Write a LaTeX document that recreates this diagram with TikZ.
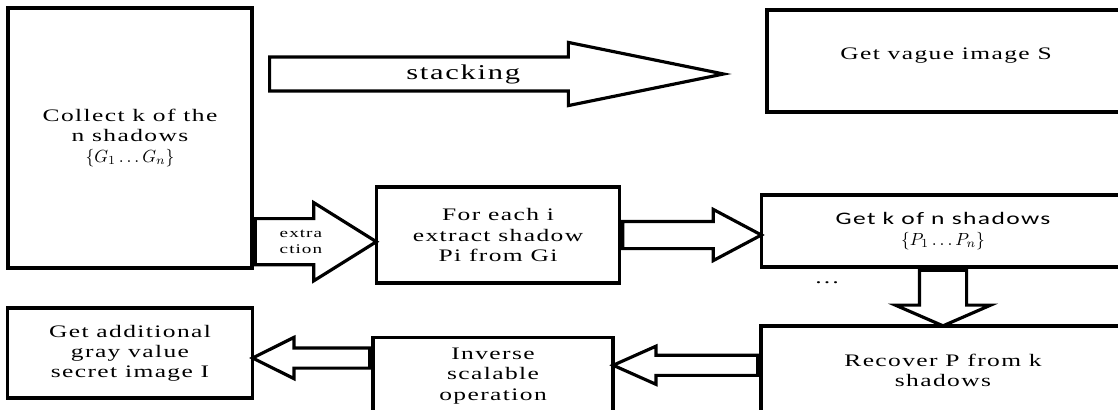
\documentclass[tikz,border=0pt]{standalone}
\usepackage{fontspec}
\setmainfont{Liberation Serif}[FakeStretch=1.45,LetterSpace=8]
\newfontfamily\calibfont{Carlito}[FakeStretch=1.45,LetterSpace=8]
\usetikzlibrary{shapes,arrows,calc}
\tikzset{
  every node/.style={
    font=\fontsize{10}{11.5}\selectfont
  },
  block/.style={
    shape=rectangle,
    draw=black,
    line width=2pt,
    fill=white,
    align=center,
    inner sep=2pt
  },
  fatarrow/.style={
    shape=single arrow,
    draw=black,
    line width=1.8pt,
    fill=white,
    inner xsep=0pt,
    pos=0,
    sloped,
    allow upside down,
    anchor=tail
  }
}

\begin{document}
\begin{tikzpicture}[x=0.02cm,y=-0.02cm]

\useasboundingbox (0,0) rectangle (1118,409);
\fill[white] (0,0) rectangle (1118,409);
\clip (0,0) rectangle (1118,409);

% boxes
\node [block, minimum width=4.88cm, minimum height=5.2cm] (collect) at (130,138)
  {Collect k of the\\n shadows\\$\{G_1 \ldots G_n\}$};
\node [block, minimum width=7.16cm, minimum height=2.04cm, text depth=0.3cm] (vague) at (946,61)
  {Get vague image S};
\node [block, minimum width=4.86cm, minimum height=1.92cm] (foreach) at (498,235)
  {For each i\\extract shadow\\Pi from Gi};
\node [block, minimum width=7.26cm, minimum height=1.44cm] (getk) at (943,231)
  {\calibfont Get k of n shadows\\$\{P_1 \ldots P_n\}$};
\node [block, minimum width=7.28cm, minimum height=1.76cm] (recover) at (943,370)
  {Recover P from k\\shadows};
\node [block, minimum width=4.8cm, minimum height=1.54cm] (inverse) at (493,376)
  {Inverse\\scalable\\operation};
\node [block, minimum width=4.9cm, minimum height=1.8cm] (getadd) at (130,353)
  {Get additional\\gray value\\secret image I};
\node (dots) at (827,283) {\ldots};

% fat arrows
\coordinate (stk0) at (268,74);
\coordinate (stk1) at (722,74);
\path let \p1=($(stk1)-(stk0)$), \n1={veclen(\x1,\y1)} in
  (stk0) -- (stk1)
  node [fatarrow, minimum height=\n1, inner ysep=0.31cm,
    single arrow head extend=0.29cm, single arrow tip angle=23] (stackarrow) {}
  node [pos=0.43, font=\fontsize{12}{14}\selectfont] (stacklabel) {stacking};

\coordinate (ext0) at ($(collect.south east)+(0,-28)$);
\path let \p1=($(ext0 -| foreach.west)-(ext0)$), \n1={veclen(\x1,\y1)} in
  (ext0) -- (ext0 -| foreach.west)
  node [fatarrow, minimum height=\n1, inner ysep=0.43cm,
    single arrow head extend=0.32cm, single arrow tip angle=64] (extarrow) {}
  node [pos=0.39, align=center, font=\fontsize{7.5}{9}\selectfont] (extlabel) {extra\\ction};

\path let \p1=($(foreach.east -| getk.west)-(foreach.east)$), \n1={veclen(\x1,\y1)} in
  (foreach.east) -- (foreach.east -| getk.west)
  node [fatarrow, minimum height=\n1, inner ysep=0.24cm,
    single arrow head extend=0.24cm, single arrow tip angle=56] (pairarrow) {};

\path let \p1=($(getk.south |- recover.north)-(getk.south)$), \n1={veclen(\x1,\y1)} in
  (getk.south) -- (getk.south |- recover.north)
  node [fatarrow, minimum height=\n1, inner ysep=0.44cm,
    single arrow head extend=0.48cm, single arrow tip angle=133] (downarrow) {};

\coordinate (ri0) at ($(recover.north west)+(0,41)$);
\path let \p1=($(ri0 -| inverse.east)-(ri0)$), \n1={veclen(\x1,\y1)} in
  (ri0) -- (ri0 -| inverse.east)
  node [fatarrow, minimum height=\n1, inner ysep=0.17cm,
    single arrow head extend=0.18cm, single arrow tip angle=48] (recarrow) {};

\coordinate (ig0) at ($(inverse.west |- getadd.east)+(0,5)$);
\path let \p1=($(ig0 -| getadd.east)-(ig0)$), \n1={veclen(\x1,\y1)} in
  (ig0) -- (ig0 -| getadd.east)
  node [fatarrow, minimum height=\n1, inner ysep=0.17cm,
    single arrow head extend=0.21cm, single arrow tip angle=53] (invarrow) {};

\end{tikzpicture}
\end{document}
